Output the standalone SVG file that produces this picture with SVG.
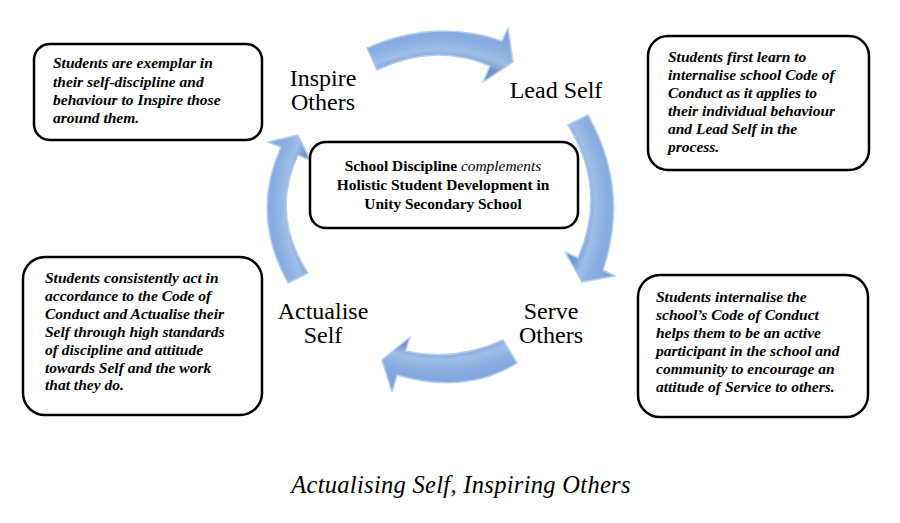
<svg xmlns="http://www.w3.org/2000/svg" width="900" height="523" viewBox="0 0 900 523">
<defs>
<radialGradient id="ag" gradientUnits="userSpaceOnUse" cx="440" cy="205" r="180">
<stop offset="0.80" stop-color="#6C96D0"/>
<stop offset="0.86" stop-color="#9FBFE9"/>
<stop offset="0.91" stop-color="#8CB1E2"/>
<stop offset="1" stop-color="#7DA5DC"/>
</radialGradient>
<style>
.box{fill:#fff;stroke:#000;stroke-width:2.5}
.bt{font-family:"Liberation Serif","Times New Roman",serif;font-size:15.5px;font-weight:bold;font-style:italic;fill:#000}
.ct{font-family:"Liberation Serif","Times New Roman",serif;font-size:15.4px;font-weight:bold;fill:#000;text-anchor:middle}
.lb{font-family:"Liberation Serif","Times New Roman",serif;font-size:24px;fill:#000;text-anchor:middle}
.tt{font-family:"Liberation Serif","Times New Roman",serif;font-size:24.5px;font-style:italic;letter-spacing:0.3px;fill:#000;text-anchor:middle}
.arr{fill:url(#ag);stroke:#B5CDEF;stroke-width:1.5;stroke-linejoin:round}
</style>
</defs>
<rect width="900" height="523" fill="#fff"/>
<g id="connectors">
<path class="arr" d="M 367 48 Q 435 18 502 41 L 508 28 L 513 62 L 483 82 L 490 66 Q 435 42 377 70 Z"/>
<path class="arr" d="M 588 115 Q 630 190 603 270 L 615 276 L 582 282 L 565 252 L 578 258 Q 608 190 568 125 Z"/>
<path class="arr" d="M 503 340 Q 455 362 405.5 351 L 410 337 L 382 360 L 392 392 L 397 375 Q 465 395 517 363 Z"/>
<path class="arr" d="M 288 283 Q 250 215 281 147 L 268 142 L 298 135 L 310 160 L 298 155 Q 270 215 308 273 Z"/>
</g>
<g id="node-inspire-box">
<rect class="box" x="34" y="44" width="228" height="96" rx="16"/>
<text class="bt"><tspan x="53" y="68">Students are exemplar in</tspan><tspan x="53" y="86.5">their self-discipline  and</tspan><tspan x="53" y="105">behaviour to Inspire those</tspan><tspan x="53" y="123">around them.</tspan></text>
</g>
<g id="node-lead-box">
<rect class="box" x="648" y="36" width="221" height="134" rx="20"/>
<text class="bt"><tspan x="668" y="62">Students first learn to</tspan><tspan x="668" y="80">internalise  school Code of</tspan><tspan x="668" y="98">Conduct as it applies to</tspan><tspan x="668" y="116">their individual behaviour</tspan><tspan x="668" y="134">and Lead Self in the</tspan><tspan x="668" y="152">process.</tspan></text>
</g>
<g id="node-actualise-box">
<rect class="box" x="23" y="257" width="239" height="158" rx="22"/>
<text class="bt"><tspan x="45" y="283">Students consistently act in</tspan><tspan x="45" y="301">accordance to the Code of</tspan><tspan x="45" y="319">Conduct and Actualise their</tspan><tspan x="45" y="337">Self through high standards</tspan><tspan x="45" y="355">of discipline and attitude</tspan><tspan x="45" y="373">towards Self and the work</tspan><tspan x="45" y="390">that they do.</tspan></text>
</g>
<g id="node-serve-box">
<rect class="box" x="638" y="275" width="230" height="142" rx="22"/>
<text class="bt"><tspan x="656" y="302">Students internalise  the</tspan><tspan x="656" y="320">school’s Code of Conduct</tspan><tspan x="656" y="338">helps them to be an active</tspan><tspan x="656" y="356">participant in the school and</tspan><tspan x="656" y="374">community to encourage an</tspan><tspan x="656" y="392">attitude  of Service to others.</tspan></text>
</g>
<g id="node-center">
<rect class="box" x="310" y="142" width="268" height="86" rx="16"/>
<text class="ct"><tspan x="443" y="171">School Discipline <tspan font-style="italic" font-weight="normal">complements</tspan></tspan><tspan x="443" y="189.5">Holistic Student Development in</tspan><tspan x="443" y="208.5">Unity Secondary School</tspan></text>
</g>
<g id="node-inspire-label"><text class="lb"><tspan x="323" y="86">Inspire</tspan><tspan x="323" y="110">Others</tspan></text></g>
<g id="node-lead-label"><text class="lb" x="556" y="98">Lead Self</text></g>
<g id="node-serve-label"><text class="lb"><tspan x="551" y="319">Serve</tspan><tspan x="551" y="343">Others</tspan></text></g>
<g id="node-actualise-label"><text class="lb"><tspan x="323" y="319">Actualise</tspan><tspan x="323" y="343">Self</tspan></text></g>
<g id="title"><text class="tt" x="461" y="493">Actualising Self, Inspiring Others</text></g>
</svg>
